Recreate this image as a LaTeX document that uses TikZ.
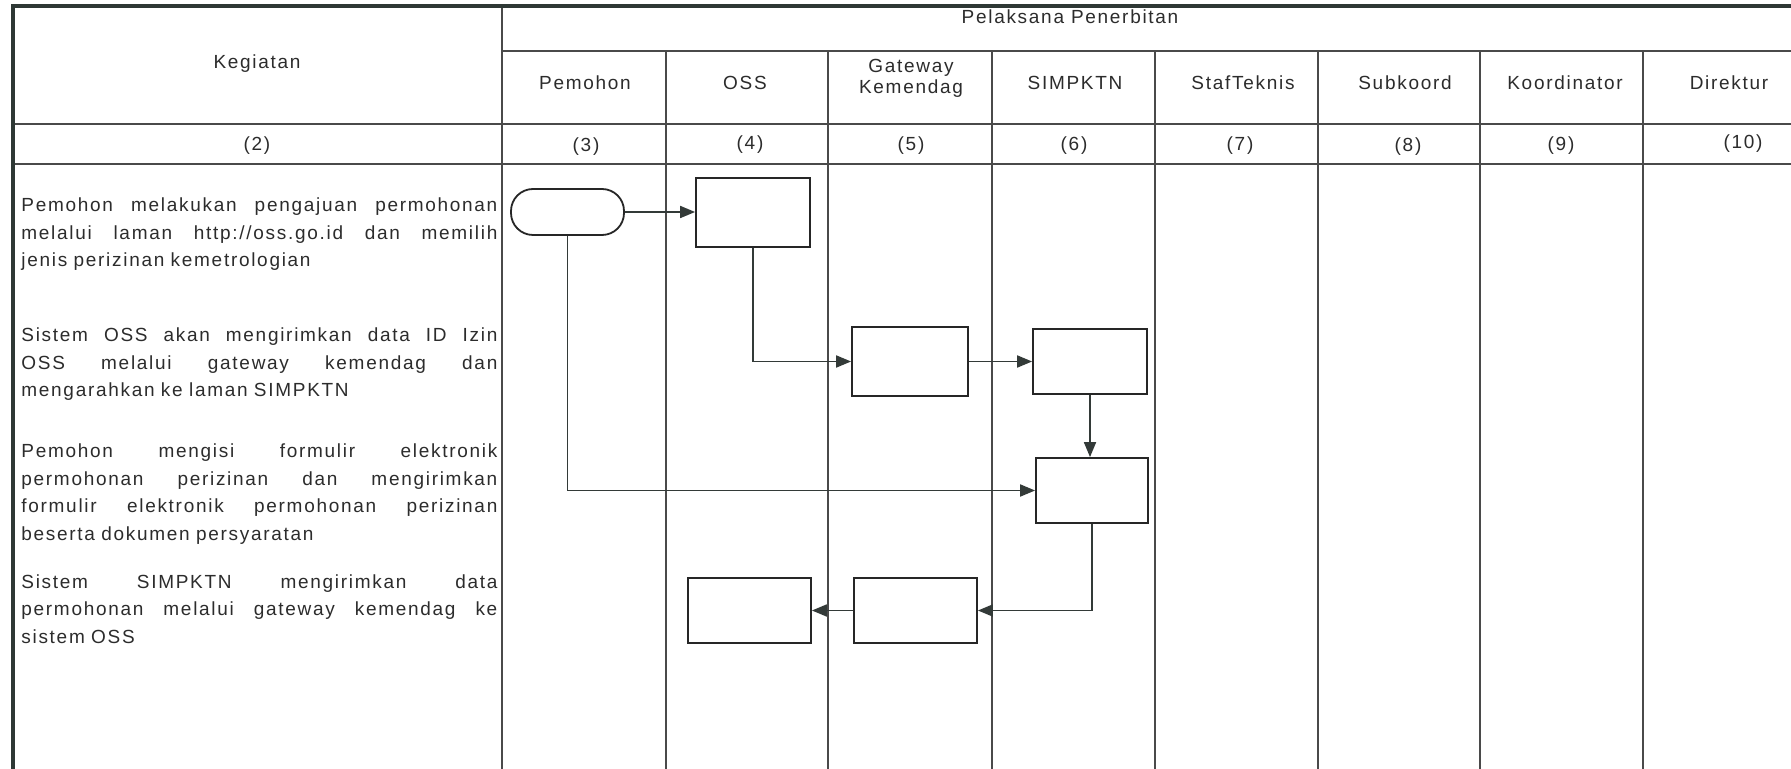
\documentclass[tikz,border=0pt]{standalone}
\usepackage{fontspec}
\setmainfont{Liberation Sans}
\newfontfamily\lsf[LetterSpace=9]{Liberation Sans}
\usetikzlibrary{arrows.meta}
\definecolor{ink}{HTML}{2C2C2C}
\definecolor{rule}{HTML}{4A4A4A}
\definecolor{frame}{HTML}{2E3835}
\definecolor{arr}{HTML}{333A38}
\newcommand{\jl}[1]{\makebox[238pt][s]{\spaceskip=0pt\xspaceskip=0pt #1}}
\begin{document}
\begin{tikzpicture}[x=0.5pt,y=-0.5pt,
  box/.style={draw=black!85, line width=0.9pt, fill=white, inner sep=0pt},
  flow/.style={draw=arr, line width=0.9pt, -{Triangle[length=7.5pt,width=6pt]}},
  colrule/.style={draw=rule, line width=0.9pt},
  hdr/.style={text=ink, font=\lsf\fontsize{9.5}{10.5}\selectfont, inner sep=0pt, align=center},
  body/.style={text=ink, font=\lsf\fontsize{9.5}{13.75}\selectfont, inner sep=0pt, text width=238pt, align=left, anchor=base west}
]
\useasboundingbox (0,0) rectangle (1791,769);
\fill[white] (0,0) rectangle (1791,769);

% table rules
\draw[colrule] (502,51) -- (1791,51);
\draw[colrule] (13,124) -- (1791,124);
\draw[colrule] (13,164) -- (1791,164);
\foreach \x in {666,828,992,1155,1318,1480,1643} \draw[colrule] (\x,51) -- (\x,769);
\draw[colrule] (502,6) -- (502,769);
\draw[frame, line width=2pt] (13,769) -- (13,6) -- (1791,6);

% headers
\node[hdr] (keg) at (257,64) {Kegiatan};
\node[hdr] (pel) at (1070,17) {Pelaksana Penerbitan};
\node[hdr] (h3) at (585,83) {Pemohon};
\node[hdr] (h4) at (745,83) {OSS};
\node[hdr] (h5) at (911,78) {Gateway\\Kemendag};
\node[hdr] (h6) at (1075,83) {SIMPKTN};
\node[hdr] (h7) at (1243,83) {StafTeknis};
\node[hdr] (h8) at (1405,83) {Subkoord};
\node[hdr] (h9) at (1565,83) {Koordinator};
\node[hdr] (h10) at (1729,83) {Direktur};

\node[hdr] (n2) at (257,146) {(2)};
\node[hdr] (n3) at (586,147) {(3)};
\node[hdr] (n4) at (750,145) {(4)};
\node[hdr] (n5) at (911,146) {(5)};
\node[hdr] (n6) at (1074,146) {(6)};
\node[hdr] (n7) at (1240,146) {(7)};
\node[hdr] (n8) at (1408,147) {(8)};
\node[hdr] (n9) at (1561,146) {(9)};
\node[hdr] (n10) at (1743,144) {(10)};

% activity texts
\node[body] (t1) at (21,212) {\jl{Pemohon melakukan pengajuan permohonan}\\\jl{melalui laman http://oss.go.id dan memilih}\\jenis perizinan kemetrologian};
\node[body] (t2) at (21,342) {\jl{Sistem OSS akan mengirimkan data ID Izin}\\\jl{OSS melalui gateway kemendag dan}\\mengarahkan ke laman SIMPKTN};
\node[body] (t3) at (21,458) {\jl{Pemohon mengisi formulir elektronik}\\\jl{permohonan perizinan dan mengirimkan}\\\jl{formulir elektronik permohonan perizinan}\\beserta dokumen persyaratan};
\node[body] (t4) at (21,588) {\jl{Sistem SIMPKTN mengirimkan data}\\\jl{permohonan melalui gateway kemendag ke}\\sistem OSS};

% flow shapes
\node[box, rounded corners=11pt, minimum width=56.5pt, minimum height=23pt] (term) at (567.5,212) {};
\node[box, minimum width=57pt, minimum height=34.5pt] (oss1) at (753,212.5) {};
\node[box, minimum width=58pt, minimum height=34.5pt] (gw1) at (910,361.5) {};
\node[box, minimum width=57pt, minimum height=32.5pt] (sim1) at (1090,361.5) {};
\node[box, minimum width=56pt, minimum height=32.5pt] (sim2) at (1092,490.5) {};
\node[box, minimum width=61.5pt, minimum height=32.5pt] (gw2) at (915.5,610.5) {};
\node[box, minimum width=61.5pt, minimum height=32.5pt] (oss2) at (749.5,610.5) {};

% connectors
\draw[flow] (term.east) -- (term.east -| oss1.west);
\draw[flow] (oss1.south) |- (gw1.west);
\draw[flow] (gw1.east) -- (gw1.east -| sim1.west);
\draw[flow] (sim1.south) -- (sim1.south |- sim2.north);
\draw[flow] (term.south) |- (sim2.west);
\draw[flow] (sim2.south) |- (gw2.east);
\draw[flow] (gw2.west) -- (gw2.west -| oss2.east);
\end{tikzpicture}
\end{document}
